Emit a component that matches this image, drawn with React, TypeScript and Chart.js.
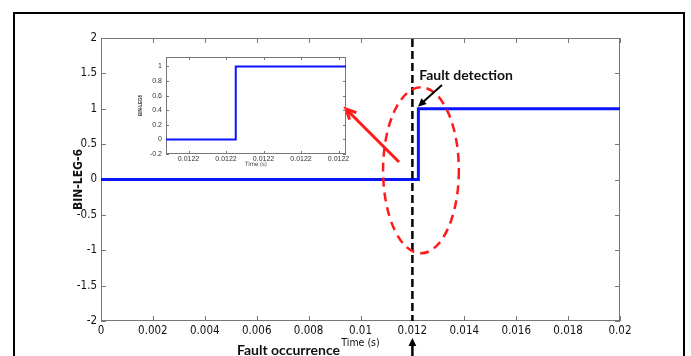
import React, { useEffect, useRef } from "react";
import { Chart, registerables } from "chart.js";
Chart.register(...registerables);

// ---- data ----
const TIME_S = [0, 0.01223026, 0.01223026, 0.02];
const BIN_LEG_6 = [0, 0, 1, 1];
const X_TICKS = [0, 0.002, 0.004, 0.006, 0.008, 0.01, 0.012, 0.014, 0.016, 0.018, 0.02];
const X_TICK_LABELS = ["0", "0.002", "0.004", "0.006", "0.008", "0.01", "0.012", "0.014", "0.016", "0.018", "0.02"];
const Y_TICKS = [-2, -1.5, -1, -0.5, 0, 0.5, 1, 1.5, 2];
const Y_TICK_LABELS = ["-2", "-1.5", "-1", "-0.5", "0", "0.5", "1", "1.5", "2"];
const INSET_X_TICKS = [0.012229, 0.01223, 0.012231, 0.012232, 0.012233];
const INSET_X_TICK_LABELS = ["0.0122", "0.0122", "0.0122", "0.0122", "0.0122"];
const INSET_Y_TICKS = [-0.2, 0, 0.2, 0.4, 0.6, 0.8, 1];
const INSET_Y_TICK_LABELS = ["-0.2", "0", "0.2", "0.4", "0.6", "0.8", "1"];
const FAULT_OCCURRENCE_TIME = 0.012;

const NARROW = '"Liberation Sans Narrow", "DejaVu Sans Condensed", "Arial Narrow", "Liberation Sans", sans-serif';
const SANS = '"Liberation Sans", Arial, sans-serif';
const BLUE = "#0a14ff";

function boxPlugin(id: string, tickLen: number, color: string) {
  return {
    id,
    beforeDatasetsDraw(chart: any) {
      const { ctx, chartArea: a, scales } = chart;
      ctx.save();
      ctx.strokeStyle = color;
      ctx.lineWidth = 1;
      ctx.strokeRect(a.left + 0.5, a.top + 0.5, a.width - 1, a.height - 1);
      ctx.beginPath();
      scales.x.ticks.forEach((t: any) => {
        const px = Math.round(scales.x.getPixelForValue(t.value)) + 0.5;
        ctx.moveTo(px, a.bottom);
        ctx.lineTo(px, a.bottom - tickLen);
        ctx.moveTo(px, a.top);
        ctx.lineTo(px, a.top + tickLen);
      });
      scales.y.ticks.forEach((t: any) => {
        const py = Math.round(scales.y.getPixelForValue(t.value)) + 0.5;
        ctx.moveTo(a.left, py);
        ctx.lineTo(a.left + tickLen, py);
        ctx.moveTo(a.right, py);
        ctx.lineTo(a.right - tickLen, py);
      });
      ctx.stroke();
      ctx.restore();
    },
  };
}

function drawArrow(ctx: CanvasRenderingContext2D, x1: number, y1: number, x2: number, y2: number, color: string, width: number, head: number, filled: boolean) {
  const ang = Math.atan2(y2 - y1, x2 - x1);
  ctx.save();
  ctx.strokeStyle = color;
  ctx.fillStyle = color;
  ctx.lineWidth = width;
  ctx.setLineDash([]);
  ctx.beginPath();
  ctx.moveTo(x1, y1);
  ctx.lineTo(filled ? x2 - Math.cos(ang) * head * 0.8 : x2, filled ? y2 - Math.sin(ang) * head * 0.8 : y2);
  ctx.stroke();
  const a1 = ang + Math.PI - 0.45;
  const a2 = ang + Math.PI + 0.45;
  ctx.beginPath();
  ctx.moveTo(x2 + Math.cos(a1) * head, y2 + Math.sin(a1) * head);
  ctx.lineTo(x2, y2);
  ctx.lineTo(x2 + Math.cos(a2) * head, y2 + Math.sin(a2) * head);
  if (filled) {
    ctx.closePath();
    ctx.fill();
  } else {
    ctx.stroke();
  }
  ctx.restore();
}

const annotationPlugin = {
  id: "annotations",
  afterDraw(chart: any) {
    const { ctx, chartArea: a, scales } = chart;
    const X = (v: number) => scales.x.getPixelForValue(v);
    const Y = (v: number) => scales.y.getPixelForValue(v);
    ctx.save();
    // fault occurrence dashed line
    const fx = X(FAULT_OCCURRENCE_TIME);
    ctx.strokeStyle = "#000";
    ctx.lineWidth = 2.5;
    ctx.setLineDash([8, 4]);
    ctx.beginPath();
    ctx.moveTo(fx, a.top + 1);
    ctx.lineTo(fx, a.bottom);
    ctx.stroke();
    // red dashed ellipse
    const cx = X(0.01233), cy = Y(0.13);
    const rx = X(0.01233 + 0.00146) - cx;
    const ry = Y(0.13) - Y(0.13 + 1.173);
    ctx.strokeStyle = "#ff1a1a";
    ctx.lineWidth = 2.5;
    ctx.setLineDash([9, 6]);
    ctx.beginPath();
    ctx.ellipse(cx, cy, rx, ry, 0, 0, Math.PI * 2);
    ctx.stroke();
    ctx.restore();
    // red arrow to inset
    drawArrow(ctx, X(0.011484), Y(0.247), X(0.009441), Y(0.9965), "#ff1a1a", 3, 11, false);
    // black arrow fault detection
    drawArrow(ctx, X(0.01314), Y(1.336), X(0.012216), Y(1.03), "#000", 2, 9, true);
    // bottom arrow
    drawArrow(ctx, fx, chart.height, fx, Y(-2.24), "#000", 2.5, 9, true);
    // texts
    ctx.save();
    ctx.fillStyle = "#111";
    ctx.font = 'bold 14px Lato, "Open Sans", sans-serif';
    ctx.textBaseline = "middle";
    ctx.textAlign = "left";
    ctx.fillText("Fault detection", X(0.01226), Y(1.477));
    ctx.fillText("Fault occurrence", X(0.00524), Y(-2.416));
    ctx.restore();
  },
};

export default function App() {
  const mainRef = useRef<HTMLCanvasElement | null>(null);
  const insetRef = useRef<HTMLCanvasElement | null>(null);

  useEffect(() => {
    document.body.style.margin = "0";
    const pts = TIME_S.map((t, i) => ({ x: t, y: BIN_LEG_6[i] }));

    const main = new Chart(mainRef.current!, {
      type: "line",
      data: {
        datasets: [
          {
            data: pts,
            borderColor: BLUE,
            borderWidth: 3,
            pointRadius: 0,
            tension: 0,
            fill: false,
          },
        ],
      },
      options: {
        animation: false,
        responsive: false,
        events: [],
        layout: { padding: { left: 0, top: 38, right: 71, bottom: 0 } },
        plugins: { legend: { display: false }, tooltip: { enabled: false } },
        scales: {
          x: {
            type: "linear",
            min: 0,
            max: 0.02,
            afterBuildTicks: (s: any) => {
              s.ticks = X_TICKS.map((v) => ({ value: v }));
            },
            afterFit: (s: any) => {
              s.height = 35;
            },
            grid: { display: false, drawTicks: false },
            border: { display: false },
            ticks: {
              padding: 3,
              maxRotation: 0,
              autoSkip: false,
              color: "#111",
              font: { family: NARROW, size: 11.5 },
              callback: (_v: any, i: number) => X_TICK_LABELS[i],
            },
            title: {
              display: true,
              text: "Time (s)",
              color: "#111",
              font: { family: NARROW, size: 10.5 },
              padding: { top: 0, bottom: 6 },
            },
          },
          y: {
            type: "linear",
            min: -2,
            max: 2,
            afterBuildTicks: (s: any) => {
              s.ticks = Y_TICKS.map((v) => ({ value: v }));
            },
            afterFit: (s: any) => {
              s.width = 101;
            },
            grid: { display: false, drawTicks: false },
            border: { display: false },
            ticks: {
              padding: 4,
              autoSkip: false,
              color: "#111",
              font: { family: NARROW, size: 11.5 },
              callback: (_v: any, i: number) => Y_TICK_LABELS[i],
            },
            title: {
              display: true,
              text: "BIN-LEG-6",
              color: "#111",
              font: { family: NARROW, size: 12, weight: "bold" },
              padding: { top: 72, bottom: 0 },
            },
          },
        },
      },
      plugins: [boxPlugin("box", 5, "#777"), annotationPlugin],
    } as any);

    const inset = new Chart(insetRef.current!, {
      type: "line",
      data: {
        datasets: [
          {
            data: pts,
            borderColor: BLUE,
            borderWidth: 2,
            pointRadius: 0,
            tension: 0,
            fill: false,
          },
        ],
      },
      options: {
        animation: false,
        responsive: false,
        events: [],
        layout: { padding: { left: 0, top: 9, right: 7, bottom: 0 } },
        plugins: { legend: { display: false }, tooltip: { enabled: false } },
        scales: {
          x: {
            type: "linear",
            min: 0.0122284,
            max: 0.0122332,
            afterBuildTicks: (s: any) => {
              s.ticks = INSET_X_TICKS.map((v) => ({ value: v }));
            },
            afterFit: (s: any) => {
              s.height = 19;
            },
            grid: { display: false, drawTicks: false },
            border: { display: false },
            ticks: {
              padding: 1,
              maxRotation: 0,
              autoSkip: false,
              color: "#333",
              font: { family: SANS, size: 7 },
              callback: (_v: any, i: number) => INSET_X_TICK_LABELS[i],
            },
            title: {
              display: true,
              text: "Time (s)",
              color: "#333",
              font: { family: NARROW, size: 6 },
              padding: { top: 0, bottom: 5 },
            },
          },
          y: {
            type: "linear",
            min: -0.2,
            max: 1.13,
            afterBuildTicks: (s: any) => {
              s.ticks = INSET_Y_TICKS.map((v) => ({ value: v }));
            },
            afterFit: (s: any) => {
              s.width = 41;
            },
            grid: { display: false, drawTicks: false },
            border: { display: false },
            ticks: {
              padding: 4,
              autoSkip: false,
              color: "#333",
              font: { family: SANS, size: 7 },
              callback: (_v: any, i: number) => INSET_Y_TICK_LABELS[i],
            },
            title: {
              display: true,
              text: "BIN-LEG6",
              color: "#333",
              font: { family: SANS, size: 4.5, weight: "bold" },
              padding: { top: 13, bottom: 0 },
            },
          },
        },
      },
      plugins: [boxPlugin("box2", 3, "#777")],
    } as any);

    return () => {
      main.destroy();
      inset.destroy();
    };
  }, []);

  return (
    <div style={{ position: "relative", width: 691, height: 356, overflow: "hidden", background: "#fff" }}>
      <div
        style={{
          position: "absolute",
          left: 13,
          top: 12,
          width: 672,
          height: 400,
          boxSizing: "border-box",
          border: "2px solid #000",
          borderBottom: "none",
        }}
      />
      <canvas ref={mainRef} width={691} height={356} style={{ position: "absolute", left: 0, top: 0 }} />
      <canvas ref={insetRef} width={228} height={125} style={{ position: "absolute", left: 125, top: 48 }} />
    </div>
  );
}
